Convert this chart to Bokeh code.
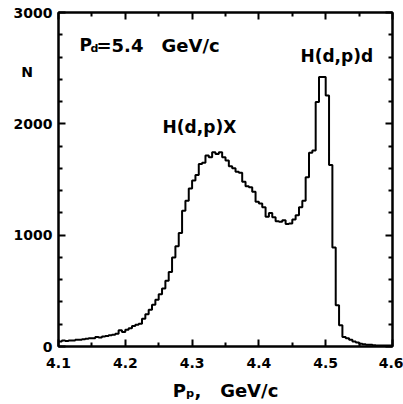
from bokeh.plotting import figure
from bokeh.models import FixedTicker, LinearAxis, Label, Range1d
from bokeh.embed import file_html
from bokeh.resources import INLINE

# Histogram bins (width 0.005 GeV/c) from 4.100 to 4.600
bin_start = 4.1
bin_width = 0.005
counts = [
    45, 55, 50, 55, 55, 60, 60, 65, 70, 75,
    75, 85, 80, 90, 95, 100, 105, 115, 145, 130,
    150, 165, 185, 195, 205, 250, 290, 330, 375, 420,
    470, 520, 590, 670, 800, 900, 1020, 1220, 1310, 1420,
    1490, 1540, 1640, 1650, 1715, 1700, 1745, 1730, 1745, 1700,
    1670, 1620, 1600, 1570, 1560, 1480, 1440, 1430, 1390, 1300,
    1285, 1250, 1165, 1200, 1160, 1125, 1120, 1135, 1100, 1105,
    1140, 1180, 1250, 1310, 1520, 1740, 1760, 2195, 2420, 2420,
    2255, 1630, 890, 370, 190, 85, 75, 60, 45, 35,
    25, 20, 15, 15, 12, 10, 10, 10, 10, 10,
]
x_ticks = [4.1, 4.2, 4.3, 4.4, 4.5, 4.6]
x_minor = [4.15, 4.25, 4.35, 4.45, 4.55]
y_ticks = [0, 1000, 2000, 3000]
y_minor = [200, 400, 600, 800, 1200, 1400, 1600, 1800, 2200, 2400, 2600, 2800]
y_title = "N"
y_title_pos = 2470
x_title = "P\u209a,\u00a0\u00a0\u00a0GeV/c"

edges = [round(bin_start + bin_width * i, 4) for i in range(len(counts) + 1)]
ys = counts + [counts[-1]]

FONT = "DejaVu Sans"

p = figure(width=403, height=404, output_backend="svg", toolbar_location=None,
           x_range=Range1d(4.1, 4.6), y_range=Range1d(0, 3000),
           min_border_left=58, min_border_right=11, min_border_top=12, min_border_bottom=58,
           background_fill_color="white", border_fill_color="white",
           y_axis_location=None)
p.grid.visible = False
p.outline_line_color = "black"
p.outline_line_width = 2

p.step(x=edges, y=ys, mode="after", line_color="black", line_width=2)

def style_axis(ax, ticks, minor, show_labels):
    ax.ticker = FixedTicker(ticks=ticks, minor_ticks=minor)
    ax.axis_line_color = "black"
    ax.axis_line_width = 2
    ax.major_tick_in = 7
    ax.major_tick_out = 0
    ax.minor_tick_in = 4
    ax.minor_tick_out = 0
    ax.major_tick_line_width = 2
    ax.minor_tick_line_width = 2
    ax.major_tick_line_color = "black"
    ax.minor_tick_line_color = "black"
    if show_labels:
        ax.major_label_text_font = FONT
        ax.major_label_text_font_style = "bold"
        ax.major_label_text_font_size = "14px"
        ax.major_label_text_color = "black"
    else:
        ax.major_label_overrides = {t: "" for t in ticks}
        ax.major_label_text_font_size = "1px"
        ax.major_label_standoff = 0

# bottom axis with labels and title
xb = p.xaxis[0]
style_axis(xb, x_ticks, x_minor, True)
xb.major_label_standoff = 11
xb.axis_label = x_title
xb.axis_label_text_font = FONT
xb.axis_label_text_font_style = "bold"
xb.axis_label_text_font_size = "18px"
xb.axis_label_text_color = "black"
xb.axis_label_standoff = 9

# inner left axis: ticks only
yl = LinearAxis()
style_axis(yl, y_ticks, y_minor, False)
p.add_layout(yl, "left")

# outer left axis: tick labels and the "N" title, no lines
yo = LinearAxis()
yo.ticker = FixedTicker(ticks=y_ticks + [y_title_pos], minor_ticks=[])
yo.major_label_overrides = {y_title_pos: y_title + "\u00a0\u00a0\u00a0\u00a0"}
yo.axis_line_color = None
yo.major_tick_line_color = None
yo.minor_tick_line_color = None
yo.major_tick_in = 0
yo.major_tick_out = 0
yo.minor_tick_in = 0
yo.minor_tick_out = 0
yo.major_label_standoff = 6
yo.major_label_text_font = FONT
yo.major_label_text_font_style = "bold"
yo.major_label_text_font_size = "14px"
yo.major_label_text_color = "black"
p.add_layout(yo, "left")

top = LinearAxis()
style_axis(top, x_ticks, x_minor, False)
p.add_layout(top, "above")
right = LinearAxis()
style_axis(right, y_ticks, y_minor, False)
p.add_layout(right, "right")

def lab(x, y, text, size, align="left", baseline="alphabetic"):
    p.add_layout(Label(x=x, y=y, text=text, text_font=FONT, text_font_style="bold",
                       text_font_size=size, text_color="black",
                       text_align=align, text_baseline=baseline))

# P_d = 5.4 GeV/c
lab(4.1314, 2704, "P", "17px")
lab(4.1480, 2677, "d", "11px")
lab(4.1569, 2704, "=5.4", "18px")
lab(4.2542, 2704, "GeV/c", "18px")

lab(4.5166, 2605, "H(d,p)d", "17px", align="center", baseline="middle")
lab(4.3110, 1976, "H(d,p)X", "17px", align="center", baseline="middle")

open("out.html", "w").write(file_html(p, INLINE))
